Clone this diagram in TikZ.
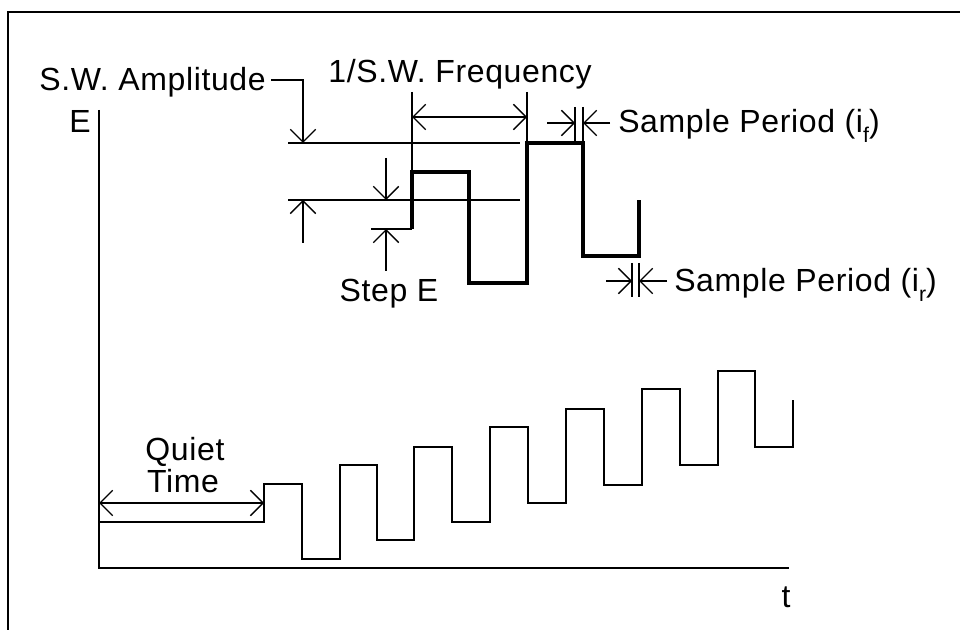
\documentclass[tikz,border=0pt]{standalone}
\usepackage{fontspec}
\setmainfont[LetterSpace=2]{Liberation Sans}
\usetikzlibrary{arrows.meta}
\newcommand{\lowsub}[1]{\raisebox{-7pt}{\fontsize{16}{16}\selectfont #1}}
\begin{document}
\begin{tikzpicture}[x=0.75pt,y=-0.75pt,
  lbl/.style={inner sep=0pt,font=\fontsize{24}{28}\selectfont},
  dimline/.style={line width=1pt},
  wave/.style={line width=1.5pt},
  bold wave/.style={line width=2.3pt},
  axis/.style={line width=1.5pt},
  >={Straight Barb[length=9.5pt,width=19pt]}]
\useasboundingbox (0,0) rectangle (960,630);
% frame (cut off at right and bottom)
\draw[line width=2pt] (8,630) -- (8,12) -- (960,12);
% axes
\coordinate (ytop) at (99,110);
\coordinate (origin) at (99,568);
\coordinate (xend) at (789,568);
\draw[axis] (ytop) -- (origin) -- (xend);
\node[lbl,anchor=base west] (E) at (69,133) {E};
\node[lbl,anchor=base] (t) at (786,607) {t};
% lower staircase square wave
\draw[wave] (99,522) -- (264,522) -- (264,484) -- (302,484) -- (302,559) -- (340,559)
  -- (340,465) -- (377,465) -- (377,540) -- (414,540) -- (414,447) -- (452,447)
  -- (452,522) -- (490,522) -- (490,427) -- (528,427) -- (528,503) -- (566,503)
  -- (566,409) -- (604,409) -- (604,485) -- (642,485) -- (642,389) -- (680,389)
  -- (680,465) -- (718,465) -- (718,371) -- (755,371) -- (755,447) -- (793,447)
  -- (793,400);
% quiet time
\coordinate (q1) at (99,503);
\coordinate (q2) at (264,503);
\draw[dimline,<->] (q1) -- (q2);
\node[lbl,anchor=base] (quiet) at (185,461) {Quiet};
\node[lbl,anchor=base] (time) at (183,493) {Time};
% upper detail wave
\draw[dimline] (371,229) -- (412,229);
\draw[bold wave] (412,229) -- (412,172) -- (469,172) -- (469,283) -- (527,283)
  -- (527,143) -- (583,143) -- (583,256) -- (639,256) -- (639,200);
% reference lines
\draw[dimline] (288,143) -- (520,143);
\draw[dimline] (288,200) -- (520,200);
% S.W. Amplitude
\node[lbl,anchor=base east] (amp) at (266,91) {S.W. Amplitude};
\coordinate (a1) at (271,80);
\coordinate (a2) at (303,80);
\coordinate (a3) at (303,143);
\coordinate (a4) at (303,243);
\coordinate (a5) at (303,200);
\draw[dimline,->] (a1) -- (a2) -- (a3);
\draw[dimline,->] (a4) -- (a5);
% Step E
\coordinate (s1) at (386,158);
\coordinate (s2) at (386,200);
\coordinate (s3) at (386,271);
\coordinate (s4) at (386,229);
\draw[dimline,->] (s1) -- (s2);
\draw[dimline,->] (s3) -- (s4);
\node[lbl,anchor=base] (step) at (389,302) {Step E};
% 1/S.W. Frequency
\node[lbl,anchor=base] (freq) at (460,83) {1/S.W. Frequency};
\draw[dimline] (412,92) -- (412,172);
\draw[dimline] (527,92) -- (527,143);
\coordinate (f1) at (412,117);
\coordinate (f2) at (527,117);
\draw[dimline,<->] (f1) -- (f2);
% Sample period (i_f)
\draw[dimline] (575,107) -- (575,143);
\draw[dimline] (583,107) -- (583,143);
\coordinate (pf1) at (547,123);
\coordinate (pf2) at (575,123);
\coordinate (pf3) at (610,123);
\coordinate (pf4) at (583,123);
\draw[dimline,->] (pf1) -- (pf2);
\draw[dimline,->] (pf3) -- (pf4);
\node[lbl,anchor=base west] (spf) at (618,133) {Sample Period (i\lowsub{f})};
% Sample period (i_r)
\draw[dimline] (632,263) -- (632,297);
\draw[dimline] (639,263) -- (639,297);
\coordinate (pr1) at (606,281);
\coordinate (pr2) at (632,281);
\coordinate (pr3) at (667,281);
\coordinate (pr4) at (639,281);
\draw[dimline,->] (pr1) -- (pr2);
\draw[dimline,->] (pr3) -- (pr4);
\node[lbl,anchor=base west] (spr) at (674,292) {Sample Period (i\lowsub{r})};
\end{tikzpicture}
\end{document}
